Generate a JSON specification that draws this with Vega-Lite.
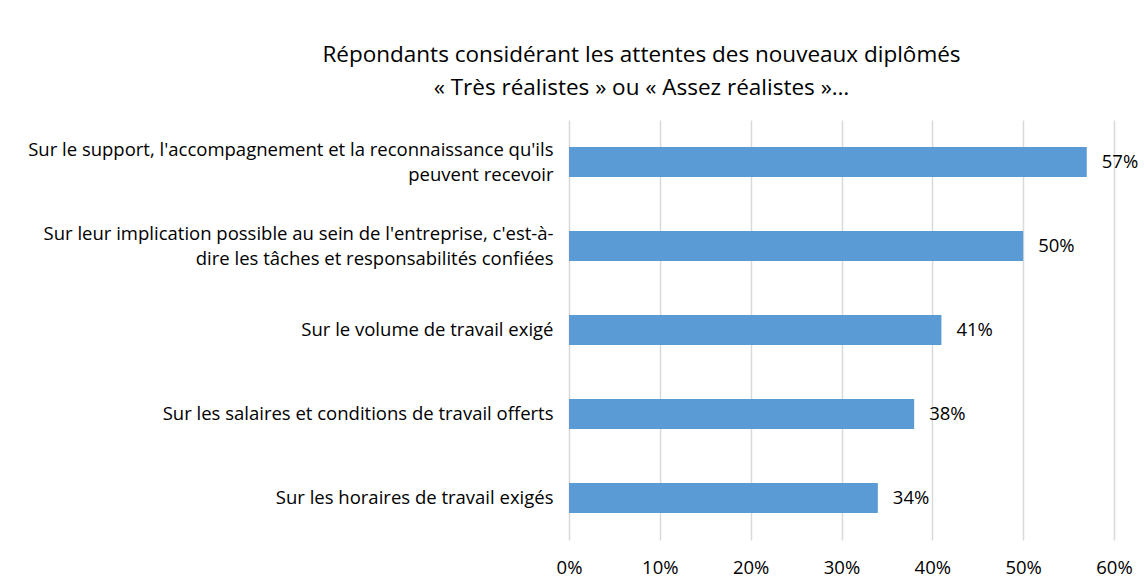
{
  "$schema": "https://vega.github.io/schema/vega-lite/v6.json",
  "width": 545,
  "height": 420,
  "autosize": {"type": "none"},
  "padding": {"left": 569, "top": 120, "right": 30, "bottom": 46},
  "background": "white",
  "title": {
    "text": ["Répondants considérant les attentes des nouveaux diplômés", "« Très réalistes » ou « Assez réalistes »…"],
    "anchor": "middle",
    "frame": "group",
    "dx": -200,
    "offset": 21,
    "font": "Open Sans",
    "fontSize": 22.5,
    "fontWeight": "normal",
    "color": "#000000",
    "lineHeight": 33
  },
  "data": {
    "values": [
      {"label": "Sur le support, l'accompagnement et la reconnaissance qu'ils|peuvent recevoir", "value": 0.57},
      {"label": "Sur leur implication possible au sein de l'entreprise, c'est-à-|dire les tâches et responsabilités confiées", "value": 0.50},
      {"label": "Sur le volume de travail exigé", "value": 0.41},
      {"label": "Sur les salaires et conditions de travail offerts", "value": 0.38},
      {"label": "Sur les horaires de travail exigés", "value": 0.34}
    ]
  },
  "encoding": {
    "y": {
      "field": "label",
      "type": "nominal",
      "sort": null,
      "scale": {"paddingInner": 0.643, "paddingOuter": 0.32},
      "axis": {
        "title": null,
        "ticks": false,
        "domain": false,
        "labelExpr": "split(datum.label, '|')",
        "labelOffset": {"condition": {"test": "indexof(datum.value, '|') >= 0", "value": -12}, "value": 0},
        "labelFont": "Open Sans",
        "labelFontSize": 18.5,
        "labelColor": "#000000",
        "labelPadding": 16,
        "labelLimit": 600,
        "labelLineHeight": 25
      }
    },
    "x": {
      "field": "value",
      "type": "quantitative",
      "scale": {"domain": [0, 0.6]},
      "axis": {
        "title": null,
        "format": ".0%",
        "values": [0, 0.1, 0.2, 0.3, 0.4, 0.5, 0.6],
        "ticks": false,
        "domain": false,
        "grid": true,
        "gridColor": "#d9d9d9",
        "gridWidth": 1.5,
        "labelFlush": false,
        "labelFont": "Open Sans",
        "labelFontSize": 18.5,
        "labelColor": "#000000",
        "labelPadding": 18
      }
    }
  },
  "layer": [
    {"mark": {"type": "bar", "color": "#5B9BD5"}},
    {
      "mark": {"type": "text", "align": "left", "dx": 15, "font": "Open Sans", "fontSize": 18.5, "color": "#000000"},
      "encoding": {"text": {"field": "value", "type": "quantitative", "format": ".0%"}}
    }
  ],
  "config": {"view": {"stroke": null}}
}
